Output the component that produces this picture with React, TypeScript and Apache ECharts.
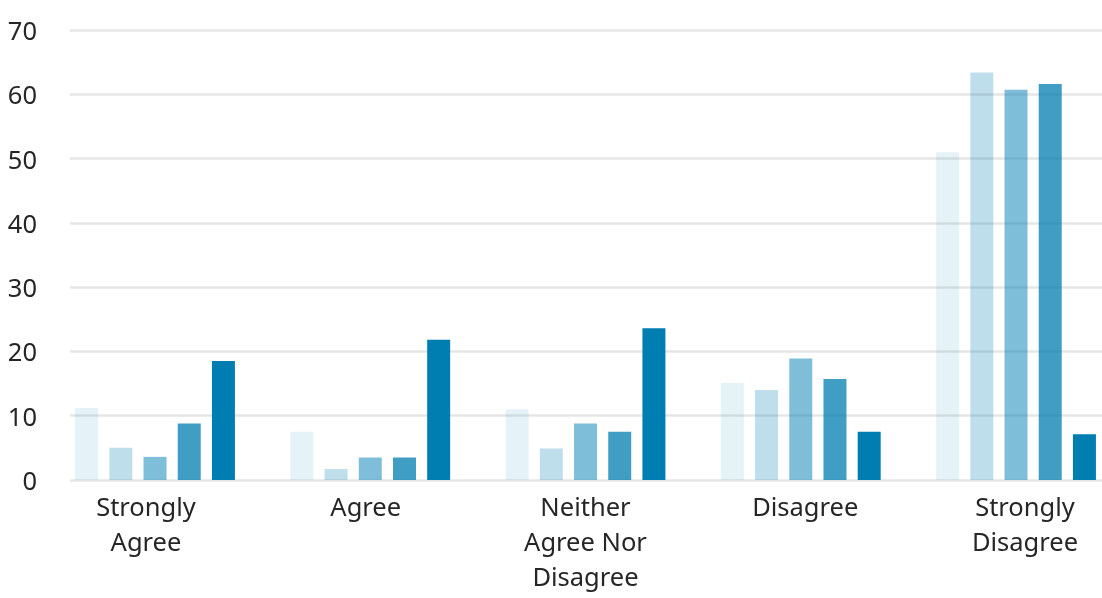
import React, { useEffect, useRef } from "react";
import * as echarts from "echarts";

const categories = ["Strongly Agree", "Agree", "Neither Agree Nor Disagree", "Disagree", "Strongly Disagree"];
const tickLabels = ["Strongly\nAgree", "Agree", "Neither\nAgree Nor\nDisagree", "Disagree", "Strongly\nDisagree"];
const yTicks = [0, 10, 20, 30, 40, 50, 60, 70];

const seriesNames = ["Series 1", "Series 2", "Series 3", "Series 4", "Series 5"];
const series1 = [11.2, 7.5, 11.0, 15.1, 51.0];
const series2 = [5.0, 1.7, 4.9, 14.0, 63.4];
const series3 = [3.6, 3.5, 8.8, 18.9, 60.7];
const series4 = [8.8, 3.5, 7.5, 15.7, 61.6];
const series5 = [18.5, 21.8, 23.6, 7.5, 7.1];
const seriesValues = [series1, series2, series3, series4, series5];
const opacities = [0.1, 0.25, 0.5, 0.75, 1];

const FONT = "'Noto Sans', sans-serif";

export default function App() {
  const ref = useRef<HTMLDivElement>(null);
  useEffect(() => {
    if (!ref.current) return;
    const chart = echarts.init(ref.current, null, { renderer: "svg" });
    const top = 30;
    const height = 450;
    const yBase = { type: "value", min: 0, max: 70, interval: 10 };
    chart.setOption({
      animation: false,
      textStyle: { fontFamily: FONT },
      grid: [
        { left: 70, width: 1032, top, height },
        { left: 47.4, width: 1076.25, top, height },
        { left: 36.1, width: 1098.75, top, height },
      ],
      yAxis: [
        {
          ...yBase,
          gridIndex: 0,
          axisLine: { show: false },
          axisTick: { show: false },
          splitLine: { show: true, lineStyle: { color: "#e6e6e6", width: 2.5 } },
          axisLabel: {
            color: "#262626",
            fontSize: 25.5,
            fontFamily: FONT,
            margin: 33,
            formatter: (v: number) => (yTicks.includes(v) ? String(v) : ""),
          },
        },
        { ...yBase, gridIndex: 1, show: false, splitLine: { show: false } },
        { ...yBase, gridIndex: 2, show: false, splitLine: { show: false } },
      ],
      xAxis: [
        { type: "category", gridIndex: 0, data: categories, show: false },
        { type: "category", gridIndex: 1, data: categories, show: false },
        {
          type: "category",
          gridIndex: 2,
          data: categories,
          axisLine: { show: false },
          axisTick: { show: false },
          axisLabel: {
            interval: 0,
            color: "#262626",
            fontSize: 25.5,
            fontFamily: FONT,
            lineHeight: 35,
            margin: 8,
            formatter: (_v: string, i: number) => tickLabels[i],
          },
        },
      ],
      series: seriesValues.map((vals, i) => ({
        name: seriesNames[i],
        type: "bar",
        xAxisIndex: 1,
        yAxisIndex: 1,
        data: vals,
        barWidth: 23,
        barGap: "48.7%",
        itemStyle: { color: "#007db1", opacity: opacities[i] },
      })),
    });
    return () => chart.dispose();
  }, []);
  return <div ref={ref} style={{ position: "fixed", left: 0, top: 0, width: 1200, height: 598 }} />;
}
